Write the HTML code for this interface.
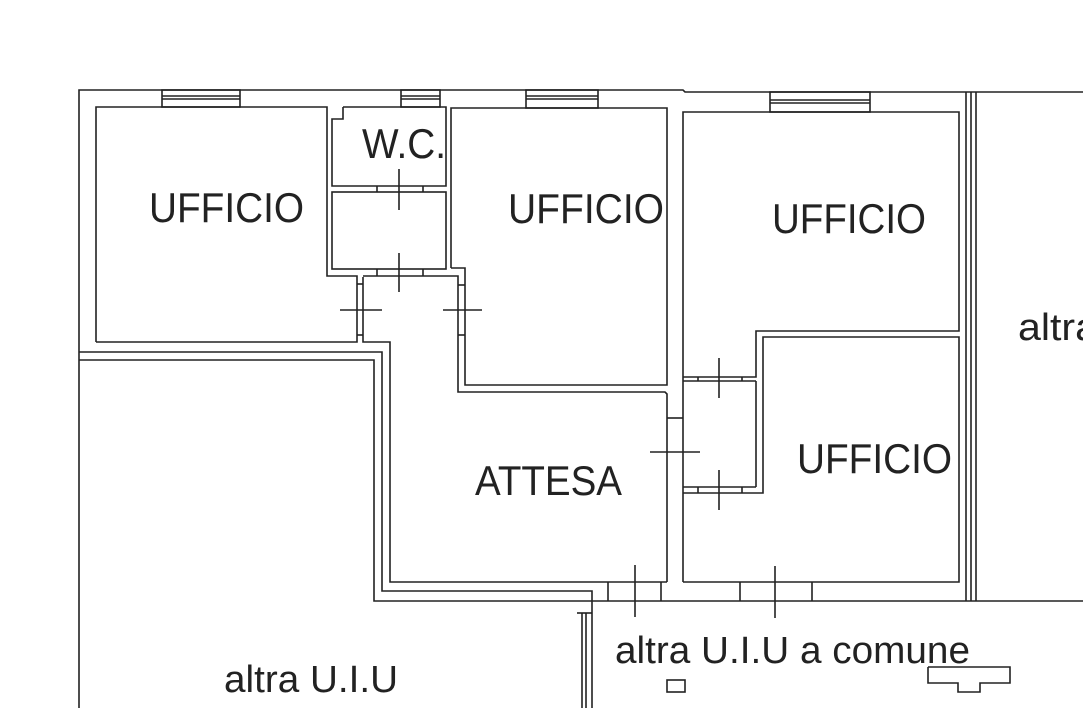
<!DOCTYPE html>
<html><head><meta charset="utf-8"><style>html,body{margin:0;padding:0;background:#fff;}svg{display:block}</style></head>
<body>
<svg width="1083" height="708" viewBox="0 0 1083 708" xmlns="http://www.w3.org/2000/svg">
<g fill="none" stroke="#222" stroke-width="1.6">
<polyline points="79,708 79,90 683,90 685,92 1083,92"/>
<rect x="162" y="90" width="78" height="17"/><line x1="162" y1="96" x2="240" y2="96"/><line x1="162" y1="99" x2="240" y2="99"/>
<rect x="401" y="90" width="39" height="17"/><line x1="401" y1="96" x2="440" y2="96"/><line x1="401" y1="99" x2="440" y2="99"/>
<rect x="526" y="90" width="72" height="18"/><line x1="526" y1="96" x2="598" y2="96"/><line x1="526" y1="99" x2="598" y2="99"/>
<rect x="770" y="92" width="100" height="20"/><line x1="770" y1="100" x2="870" y2="100"/><line x1="770" y1="103" x2="870" y2="103"/>
<polyline points="96,342 96,107 327,107 327,276 357,276 357,342 96,342"/>
<polyline points="79,352 382,352 382,591 592,591 592,708"/>
<polyline points="79,360 374,360 374,601 1083,601"/>
<polyline points="343,107 446,107 446,186 332,186 332,119 343,119 343,107"/>
<rect x="332" y="192" width="114" height="77"/>
<line x1="377" y1="186" x2="377" y2="192"/><line x1="423" y1="186" x2="423" y2="192"/>
<line x1="377" y1="269" x2="377" y2="276"/><line x1="423" y1="269" x2="423" y2="276"/>
<polyline points="363,277 363,342 390,342 390,582 667,582"/>
<polyline points="363,276 458,276 458,392 665,392 667,394 667,582"/>
<line x1="357" y1="284" x2="363" y2="284"/><line x1="357" y1="335" x2="363" y2="335"/>
<line x1="458" y1="285" x2="465" y2="285"/><line x1="458" y1="335" x2="465" y2="335"/>
<polyline points="451,268 451,108 667,108 667,385 465,385 465,268 451,268"/>
<polyline points="683,582 683,112 959,112 959,331 756,331 756,377 683,377"/>
<line x1="683" y1="381" x2="756" y2="381"/>
<line x1="756" y1="381" x2="756" y2="487"/>
<line x1="683" y1="487" x2="756" y2="487"/>
<line x1="698" y1="377" x2="698" y2="381"/><line x1="742" y1="377" x2="742" y2="381"/>
<line x1="698" y1="487" x2="698" y2="493"/><line x1="742" y1="487" x2="742" y2="493"/>
<polyline points="683,493 763,493 763,337 959,337 959,582 683,582"/>
<line x1="667" y1="418" x2="683" y2="418"/>
<line x1="966" y1="92" x2="966" y2="601"/><line x1="971" y1="92" x2="971" y2="601"/><line x1="976" y1="92" x2="976" y2="601"/>
<line x1="608" y1="582" x2="608" y2="601"/><line x1="661" y1="582" x2="661" y2="601"/>
<line x1="740" y1="582" x2="740" y2="601"/><line x1="812" y1="582" x2="812" y2="601"/>
<line x1="582" y1="613" x2="582" y2="708"/><line x1="586" y1="613" x2="586" y2="708"/>
<line x1="577" y1="613" x2="592" y2="613"/>
<line x1="399" y1="169" x2="399" y2="210"/>
<line x1="399" y1="253" x2="399" y2="292"/>
<line x1="340" y1="310" x2="382" y2="310"/>
<line x1="443" y1="310" x2="482" y2="310"/>
<line x1="719" y1="358" x2="719" y2="398"/>
<line x1="719" y1="470" x2="719" y2="510"/>
<line x1="650" y1="452" x2="700" y2="452"/>
<line x1="635" y1="565" x2="635" y2="617"/>
<line x1="775" y1="566" x2="775" y2="618"/>
<rect x="667" y="680" width="18" height="12"/>
<polyline points="928,667 1010,667 1010,683 980,683 980,692 958,692 958,683 928,683 928,667"/>
</g>
<g fill="#222" font-family="'Liberation Sans', sans-serif" font-size="42">
<text x="149" y="222" textLength="155" lengthAdjust="spacingAndGlyphs">UFFICIO</text>
<text x="508" y="223" textLength="156" lengthAdjust="spacingAndGlyphs">UFFICIO</text>
<text x="772" y="233" textLength="154" lengthAdjust="spacingAndGlyphs">UFFICIO</text>
<text x="797" y="473" textLength="155" lengthAdjust="spacingAndGlyphs">UFFICIO</text>
<text x="475" y="495" textLength="147" lengthAdjust="spacingAndGlyphs">ATTESA</text>
<text x="362" y="158" textLength="84" lengthAdjust="spacingAndGlyphs">W.C.</text>
<text x="1018" y="340" font-size="38" textLength="80" lengthAdjust="spacingAndGlyphs">altra</text>
<text x="224" y="692" font-size="38" textLength="174" lengthAdjust="spacingAndGlyphs">altra U.I.U</text>
<text x="615" y="663" font-size="38" textLength="355" lengthAdjust="spacingAndGlyphs">altra U.I.U a comune</text>
</g>
</svg>
</body></html>
